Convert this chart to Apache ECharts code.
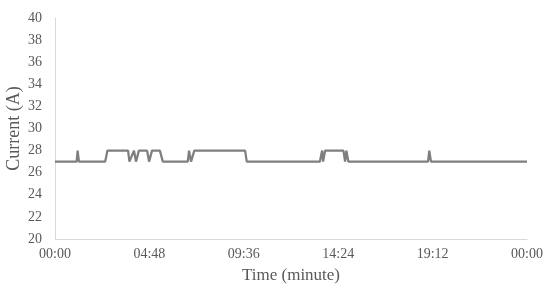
<!DOCTYPE html>
<html>
<head>
<meta charset="utf-8">
<script src="https://cdn.jsdelivr.net/npm/echarts@6/dist/echarts.min.js"></script>
<style>
    html, body { margin: 0; padding: 0; background: #fff; }
    #box { width: 550px; height: 292px; }
</style>
</head>
<body>
<div id="box"></div>
<script>
// minutes since midnight where the reading changes
var times = [0, 66, 69, 73, 153, 160, 223, 227, 233, 241, 247, 256, 281, 287, 296, 320, 329,
    405, 409, 415, 425, 580, 585, 808, 815, 818, 824, 880, 885, 889, 895, 1138, 1142, 1147, 1440];
var currents = [27, 27, 28, 27, 27, 28, 28, 27, 27, 28, 27, 28, 28, 27, 28, 28, 27,
    27, 28, 27, 28, 28, 27, 27, 28, 27, 28, 28, 27, 28, 27, 27, 28, 27, 27];
var yTicks = [20, 40, 2];      // min, max, step
var xTicks = [0, 1440, 288];   // minutes

function fmtTime(v) {
    var m = Math.round(v) % 1440;
    var h = Math.floor(m / 60), mm = m % 60;
    return (h < 10 ? '0' : '') + h + ':' + (mm < 10 ? '0' : '') + mm;
}

window.onload = function () {
    var chart = echarts.init(document.getElementById('box'));
    var font = 'Liberation Serif';
    var data = [];
    for (var i = 0; i < times.length; i++) data.push([times[i], currents[i]]);

    chart.setOption({
        animation: false,
        textStyle: { fontFamily: font },
        grid: { left: 55, right: 23, top: 18, bottom: 53, outerBoundsMode: 'none' },
        xAxis: {
            type: 'value',
            min: xTicks[0], max: xTicks[1], interval: xTicks[2],
            name: 'Time (minute)',
            nameLocation: 'middle',
            nameGap: 28,
            nameTextStyle: { fontFamily: font, fontSize: 17, color: '#595959' },
            axisLine: { show: true, lineStyle: { color: '#d9d9d9', width: 1 } },
            axisTick: { show: false },
            splitLine: { show: false },
            axisLabel: { formatter: fmtTime, fontFamily: font, fontSize: 14, color: '#595959', margin: 8 }
        },
        yAxis: {
            type: 'value',
            min: yTicks[0], max: yTicks[1], interval: yTicks[2],
            name: 'Current (A)',
            nameLocation: 'middle',
            nameGap: 32,
            nameMoveOverlap: false,
            nameTextStyle: { fontFamily: font, fontSize: 18, color: '#595959' },
            axisLine: { show: true, lineStyle: { color: '#d9d9d9', width: 1 } },
            axisTick: { show: false },
            splitLine: { show: false },
            axisLabel: { fontFamily: font, fontSize: 14, color: '#595959', margin: 13 }
        },
        series: [{
            type: 'line',
            data: data,
            symbol: 'none',
            lineStyle: { color: '#7f7f7f', width: 2.25 }
        }]
    });
};
</script>
</body>
</html>
